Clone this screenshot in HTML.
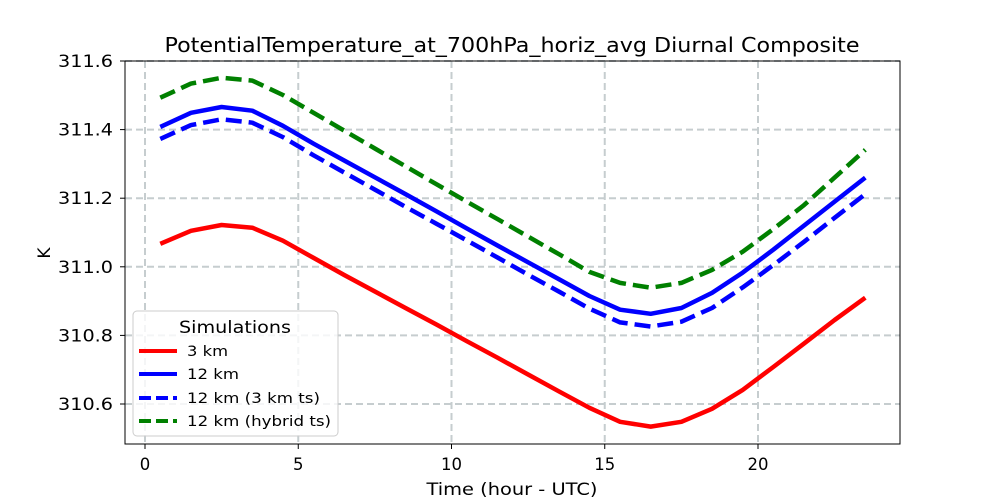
<!DOCTYPE html>
<html><head><meta charset="utf-8"><style>
body{margin:0;background:#fff;}
svg{display:block;font-family:"DejaVu Sans","Liberation Sans",sans-serif;}
</style></head><body>
<svg id="chart" width="1000" height="500">
<rect width="1000" height="500" fill="#fff"/>
<text x="512" y="52" text-anchor="middle" font-size="20" textLength="695" lengthAdjust="spacingAndGlyphs">PotentialTemperature_at_700hPa_horiz_avg Diurnal Composite</text>
<g id="grid"></g>
<g id="series"></g>
<rect x="125" y="61" width="775" height="383" fill="none" stroke="#000" stroke-width="1"/>
<g id="ticks"></g>
<text x="512" y="495" text-anchor="middle" font-size="17" textLength="171" lengthAdjust="spacingAndGlyphs">Time (hour - UTC)</text>
<text x="50" y="253" text-anchor="middle" font-size="17" transform="rotate(-90 50 253)">K</text>
<g>
<rect x="133" y="311" width="205" height="125" rx="4" fill="#fff" fill-opacity="0.8" stroke="#ccc"/>
<text x="235" y="333" text-anchor="middle" font-size="16.5" textLength="112" lengthAdjust="spacingAndGlyphs">Simulations</text>
<line x1="139" y1="351" x2="177" y2="351" stroke="#ff0000" stroke-width="4"/>
<text x="187" y="356" font-size="14.5" textLength="41" lengthAdjust="spacingAndGlyphs">3 km</text>
<line x1="139" y1="374" x2="177" y2="374" stroke="#0000ff" stroke-width="4"/>
<text x="187" y="379" font-size="14.5" textLength="52" lengthAdjust="spacingAndGlyphs">12 km</text>
<line x1="139" y1="398" x2="177" y2="398" stroke="#0000ff" stroke-width="4" stroke-dasharray="12,5"/>
<text x="187" y="403" font-size="14.5" textLength="133" lengthAdjust="spacingAndGlyphs">12 km (3 km ts)</text>
<line x1="139" y1="421" x2="177" y2="421" stroke="#008000" stroke-width="4" stroke-dasharray="12,5"/>
<text x="187" y="426" font-size="14.5" textLength="144" lengthAdjust="spacingAndGlyphs">12 km (hybrid ts)</text>
</g>
</svg>
<script>
const hours=[0.5,1.5,2.5,3.5,4.5,5.5,6.5,7.5,8.5,9.5,10.5,11.5,12.5,13.5,14.5,15.5,16.5,17.5,18.5,19.5,20.5,21.5,22.5,23.5];
const red3km=[311.067,311.105,311.122,311.114,311.076,311.026,310.976,310.928,310.880,310.832,310.783,310.735,310.686,310.637,310.589,310.548,310.534,310.548,310.586,310.641,310.708,310.776,310.845,310.910];
const blue12km=[311.408,311.449,311.466,311.455,311.411,311.359,311.310,311.261,311.212,311.162,311.112,311.062,311.013,310.964,310.915,310.875,310.863,310.880,310.924,310.983,311.050,311.120,311.190,311.260];
const blue12km3ts=[311.373,311.413,311.430,311.420,311.378,311.325,311.275,311.225,311.175,311.126,311.077,311.027,310.977,310.928,310.878,310.838,310.826,310.840,310.880,310.940,311.005,311.073,311.143,311.212];
const green12kmHybrid=[311.493,311.534,311.551,311.543,311.501,311.449,311.397,311.345,311.293,311.241,311.190,311.139,311.088,311.037,310.985,310.953,310.939,310.953,310.991,311.044,311.110,311.180,311.260,311.341];
const xTicks=[0,5,10,15,20];
const yTicks=[310.6,310.8,311.0,311.2,311.4,311.6];
const NS="http://www.w3.org/2000/svg";
const xs=h=>145+h*30.65;
const ys=v=>61+(311.6-v)*343;
const grid=document.getElementById('grid'),ticks=document.getElementById('ticks'),ser=document.getElementById('series');
function mk(tag,attrs,parent){const e=document.createElementNS(NS,tag);for(const k in attrs)e.setAttribute(k,attrs[k]);parent.appendChild(e);return e;}
xTicks.forEach(t=>{
 const g=mk('line',{x1:xs(t),x2:xs(t),y1:61,y2:444,stroke:'#c6cdcf',"stroke-width":2,"stroke-dasharray":"7,4"},grid);
 
 
 const tk=mk('line',{x1:xs(t),x2:xs(t),y1:444,y2:449,stroke:'#000'},ticks);
 
 
 const tl=mk('text',{x:xs(t),y:470,"text-anchor":"middle","font-size":16.5},ticks);tl.textContent=t;
 
 
});
yTicks.forEach(t=>{
 const g=mk('line',{x1:125,x2:900,y1:ys(t),y2:ys(t),stroke:'#c6cdcf',"stroke-width":2,"stroke-dasharray":"7,4"},grid);
 
 
 const tk=mk('line',{x1:120,x2:125,y1:ys(t),y2:ys(t),stroke:'#000'},ticks);
 
 
 const tl=mk('text',{x:113,y:ys(t)+6,"text-anchor":"end","font-size":16.5,textLength:55,lengthAdjust:"spacingAndGlyphs"},ticks);tl.textContent=t.toFixed(1);
 
 
});
function line(vals,color,dash,name){
 const d=vals.map((v,i)=>(i?'L':'M')+xs(hours[i]).toFixed(1)+','+ys(v).toFixed(1)).join('');
 const p=mk('path',{d:d,fill:'none',stroke:color,"stroke-width":4.5,"stroke-linejoin":"round"},ser);
 if(dash)p.setAttribute('stroke-dasharray',dash);
 
 
}
line(red3km,'#ff0000',null,'line-3km');
line(blue12km,'#0000ff',null,'line-12km');
line(blue12km3ts,'#0000ff','16,7','line-12km-3km-ts');
line(green12kmHybrid,'#008000','16,7','line-12km-hybrid-ts');
</script>
</body></html>
